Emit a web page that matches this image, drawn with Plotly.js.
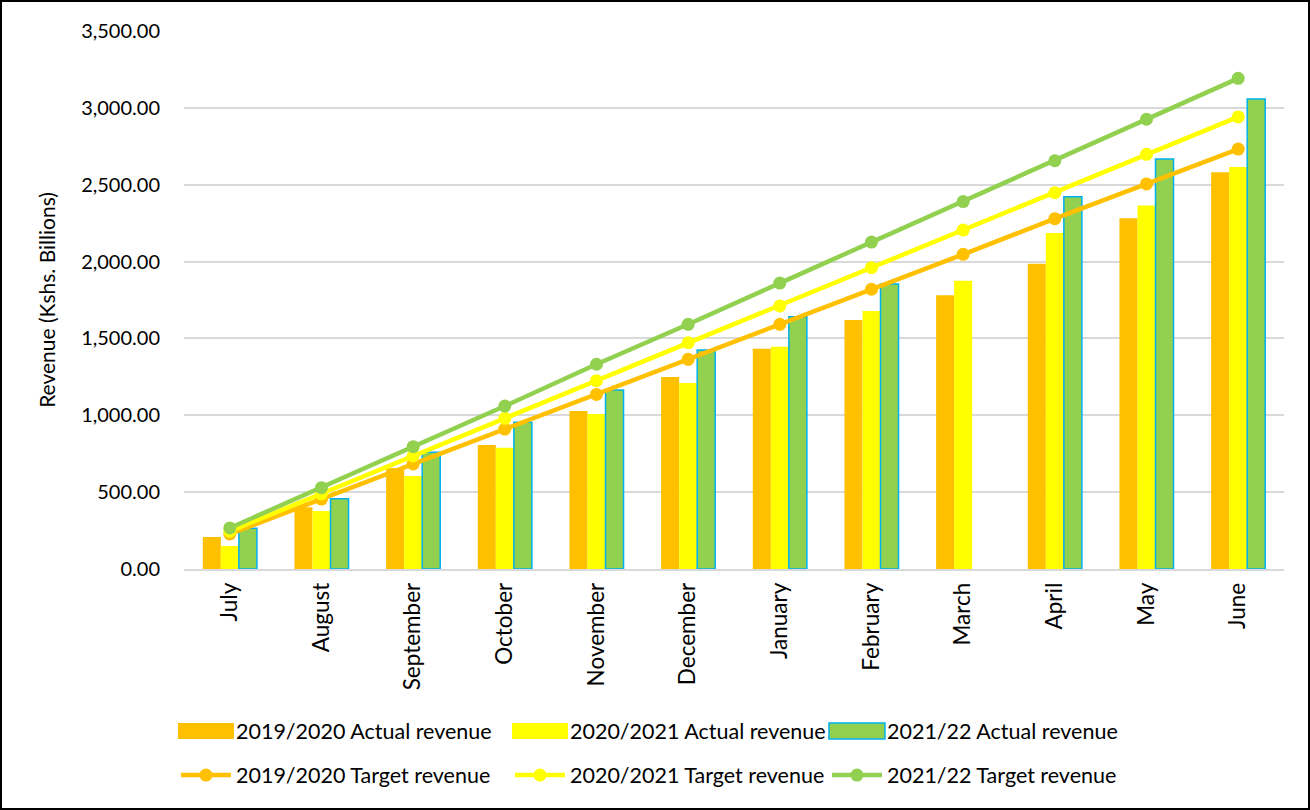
<!DOCTYPE html>
<html>
<head>
<meta charset="utf-8">
<script src="https://cdn.plot.ly/plotly-3.0.1.min.js"></script>
<style>
  html, body { margin: 0; padding: 0; background: #fff; }
  #frame { width: 1310px; height: 810px; box-sizing: border-box; border: 2px solid #000; }
  #chart { width: 1306px; height: 806px; }
</style>
</head>
<body>
<div id="frame"><div id="chart"></div></div>
<script>
const months = ["July","August","September","October","November","December","January","February","March","April","May","June"];

const actual2019 = [208, 401, 657, 807, 1028, 1249, 1433, 1620, 1781, 1986, 2282, 2581];
const actual2020 = [150, 377, 605, 789, 1008, 1210, 1446, 1679, 1876, 2186, 2364, 2615];
const actual2021 = [265, 457, 759, 955, 1165, 1425, 1641, 1854, null, 2422, 2668, 3058];

const target2019 = [228, 455, 683, 910, 1136, 1364, 1592, 1820, 2047, 2279, 2505, 2732];
const target2020 = [245, 490, 735, 980, 1225, 1472, 1711, 1960, 2205, 2448, 2698, 2941];
const target2021 = [267, 529, 796, 1060, 1332, 1592, 1860, 2127, 2390, 2656, 2926, 3192];

const ORANGE = "#FFC000", YELLOW = "#FFFF00", GREEN = "#92D050", BLUE = "#00B0F0";
const FONT = "Lato, 'Open Sans', sans-serif";

function barTrace(name, y, color, outline, lw) {
  return {
    type: "bar", name: name, x: months, y: y, legend: "legend", legendwidth: lw,
    marker: { color: color, line: outline ? { color: BLUE, width: 1.5 } : { width: 0 } }
  };
}
function lineTrace(name, y, color, lw) {
  return {
    type: "scatter", mode: "lines+markers", name: name, x: months, y: y, legend: "legend2", legendwidth: lw,
    line: { color: color, width: 4.5 },
    marker: { color: color, size: 13 }
  };
}

const data = [
  barTrace("2019/2020 Actual revenue", actual2019, ORANGE, false, 269),
  barTrace("2020/2021 Actual revenue", actual2020, YELLOW, false, 252),
  barTrace("2021/22 Actual revenue", actual2021, GREEN, true, 240),
  lineTrace("2019/2020 Target revenue", target2019, ORANGE, 269),
  lineTrace("2020/2021 Target revenue", target2020, YELLOW, 252),
  lineTrace("2021/22 Target revenue", target2021, GREEN, 240)
];

const legendCommon = {
  orientation: "h", xanchor: "left", yanchor: "middle",
  xref: "paper", yref: "paper",
  font: { family: FONT, size: 21.5, color: "#000" },
  traceorder: "normal", itemwidth: 50, bgcolor: "rgba(0,0,0,0)"
};

const layout = {
  width: 1306, height: 806,
  margin: { l: 182, r: 24, t: 29, b: 239, autoexpand: false },
  paper_bgcolor: "#fff", plot_bgcolor: "#fff",
  font: { family: FONT, size: 20, color: "#000" },
  barmode: "group",
  bargap: 0.41, bargroupgap: 0,
  showlegend: true,
  legend: Object.assign({}, legendCommon, { x: -0.0073, y: -0.301 }),
  legend2: Object.assign({}, legendCommon, { x: -0.0073, y: -0.383 }),
  xaxis: {
    type: "category",
    range: [-0.5, 11.5],
    tickangle: -90,
    showgrid: false,
    showline: true, linecolor: "#D9D9D9", linewidth: 1.5,
    ticks: "", ticklabelstandoff: 3,
    tickfont: { family: FONT, size: 22.5, color: "#000" }
  },
  yaxis: {
    range: [0, 3500],
    dtick: 500, tick0: 0,
    tickformat: ",.2f",
    showgrid: true, gridcolor: "#D9D9D9", gridwidth: 1.5,
    zeroline: false, showline: false,
    ticks: "", ticklabelstandoff: 23,
    tickfont: { family: FONT, size: 20, color: "#000" },
    title: { text: "Revenue (Kshs. Billions)", font: { family: FONT, size: 21, color: "#000" }, standoff: 19 }
  }
};

const gd = document.getElementById("chart");
function widenBarLegendSymbols() {
  gd.querySelectorAll("g.legendpoints path").forEach(function (p) {
    const d = (p.getAttribute("d") || "").replace(/\s/g, "");
    if (d === "M6,6H-6V-6H6Z") {
      p.setAttribute("d", "M28,8H-28V-8H28Z");
    }
  });
}
Plotly.newPlot(gd, data, layout, { displayModeBar: false }).then(function () {
  widenBarLegendSymbols();
  setTimeout(widenBarLegendSymbols, 0);
  gd.on("plotly_afterplot", widenBarLegendSymbols);
});
</script>
</body>
</html>
